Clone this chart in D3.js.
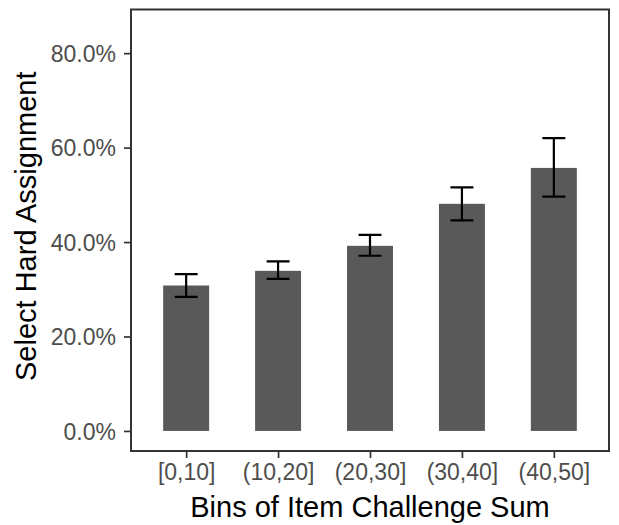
<!DOCTYPE html>
<html>
<head>
<meta charset="utf-8">
<script src="https://cdn.jsdelivr.net/npm/d3@7"></script>
<style>
  html, body { margin: 0; padding: 0; background: #ffffff; }
  svg { display: block; }
  text { font-family: "Liberation Sans", Arial, Helvetica, sans-serif; }
</style>
</head>
<body>
<script>
// Share of hard assignments selected, by bin of summed item challenge
const bins = ["[0,10]", "(10,20]", "(20,30]", "(30,40]", "(40,50]"];
const share = [0.308, 0.339, 0.392, 0.481, 0.557];
const lower = [0.284, 0.322, 0.371, 0.446, 0.496];
const upper = [0.332, 0.359, 0.415, 0.516, 0.620];
const yTicks = [0, 0.2, 0.4, 0.6, 0.8];
const yLimits = [0, 0.85];

const W = 619, H = 525;
const panel = { left: 131, right: 609, top: 9.5, bottom: 451 };

const svg = d3.select("body").append("svg")
  .attr("width", W).attr("height", H);

// discrete x with ggplot-style 0.6 unit padding
const x = d3.scalePoint().domain(bins)
  .range([panel.left, panel.right]).padding(0.6);
const step = x.step();

// continuous y with 5% expansion on both ends
const span = yLimits[1] - yLimits[0];
const y = d3.scaleLinear()
  .domain([yLimits[0] - 0.05 * span, yLimits[1] + 0.05 * span])
  .range([panel.bottom, panel.top]);

const rows = bins.map((b, i) => ({ bin: b, v: share[i], lo: lower[i], hi: upper[i] }));

// bars
svg.append("g").selectAll("rect").data(rows).join("rect")
  .attr("x", d => x(d.bin) - step * 0.25)
  .attr("width", step * 0.5)
  .attr("y", d => y(d.v))
  .attr("height", d => y(0) - y(d.v))
  .attr("fill", "#595959");

// error bars
const eb = svg.append("g").attr("stroke", "#000").attr("stroke-width", 2.2)
  .attr("fill", "none");
const half = step * 0.125;
eb.selectAll("path").data(rows).join("path")
  .attr("d", d => {
    const cx = x(d.bin), t = y(d.hi), b = y(d.lo);
    return `M${cx - half},${t}H${cx + half}M${cx},${t}V${b}M${cx - half},${b}H${cx + half}`;
  });

// panel border
svg.append("rect")
  .attr("x", panel.left).attr("y", panel.top)
  .attr("width", panel.right - panel.left)
  .attr("height", panel.bottom - panel.top)
  .attr("fill", "none").attr("stroke", "#333333").attr("stroke-width", 2);

// y axis
const yAxis = d3.axisLeft(y).tickValues(yTicks).tickFormat(d3.format(".1%"))
  .tickSize(7).tickPadding(8);
const gy = svg.append("g").attr("transform", `translate(${panel.left},0)`).call(yAxis);
gy.select(".domain").remove();
gy.selectAll(".tick line").attr("stroke", "#333333").attr("stroke-width", 1.7);
gy.selectAll(".tick text")
  .attr("fill", "#4d4d4d").style("font-size", "23px")
  .style("font-family", '"Liberation Sans", Arial, sans-serif')
  .attr("dy", "0.36em");

// x axis
const xAxis = d3.axisBottom(x).tickSize(7).tickPadding(6);
const gx = svg.append("g").attr("transform", `translate(0,${panel.bottom})`).call(xAxis);
gx.select(".domain").remove();
gx.selectAll(".tick line").attr("stroke", "#333333").attr("stroke-width", 1.7);
gx.selectAll(".tick text")
  .attr("fill", "#4d4d4d").style("font-size", "23px")
  .style("font-family", '"Liberation Sans", Arial, sans-serif')
  .attr("dy", "0.71em");

// axis titles
svg.append("text")
  .attr("x", (panel.left + panel.right) / 2).attr("y", 517)
  .attr("text-anchor", "middle").attr("fill", "#000")
  .style("font-size", "29px")
  .text("Bins of Item Challenge Sum");

svg.append("text")
  .attr("transform", `translate(35.5,${(panel.top + panel.bottom) / 2 - 4}) rotate(-90)`)
  .attr("text-anchor", "middle").attr("fill", "#000")
  .style("font-size", "29px")
  .text("Select Hard Assignment");
</script>
</body>
</html>
